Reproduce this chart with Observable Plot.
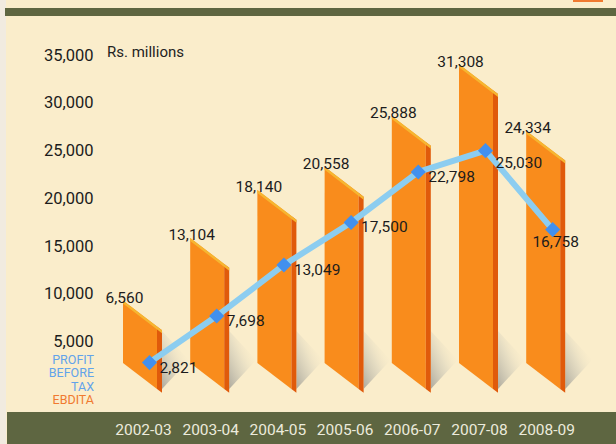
<!DOCTYPE html>
<html><head><meta charset="utf-8">
<script src="https://cdn.jsdelivr.net/npm/d3@7"></script>
<script src="https://cdn.jsdelivr.net/npm/@observablehq/plot@0.6"></script>
<style>
body{margin:0;background:#faedcb;font-family:Roboto,sans-serif;}
#wrap{position:relative;width:616px;height:444px;overflow:hidden;background:#faedcb;}
.abs{position:absolute;white-space:nowrap;}
</style></head><body>
<div id="wrap">
 <div class="abs" style="left:0;top:0;width:6px;height:444px;background:#f1ebe0"></div>
 <div class="abs" style="left:5px;top:8px;width:611px;height:8px;background:#5e6641"></div>
 <div class="abs" style="left:7px;top:412px;width:609px;height:32px;background:#5e6641"></div>
 <div class="abs" style="left:509px;top:-13px;font-size:14px;line-height:16px;color:#222">EBDITA</div>
 <div class="abs" style="left:573px;top:0;width:30px;height:2px;background:#f07a30"></div>
 <div class="abs" style="left:107px;top:43px;font-size:15px;color:#222">Rs. millions</div>
 <div class="abs" style="right:522px;top:353px;text-align:right;font-size:12.5px;line-height:13.3px">
   <div style="color:#62a3ea">PROFIT</div>
   <div style="color:#62a3ea">BEFORE</div>
   <div style="color:#62a3ea">TAX</div>
   <div style="color:#f07a30">EBDITA</div>
 </div>
 <div id="chart" class="abs" style="left:0;top:0"></div>
</div>
<script>
const years = ["2002-03","2003-04","2004-05","2005-06","2006-07","2007-08","2008-09"];
const ebdita = [6560, 13104, 18140, 20558, 25888, 31308, 24334];
const pbt = [2821, 7698, 13049, 17500, 22798, 25030, 16758];
const yTicks = [5000, 10000, 15000, 20000, 25000, 30000, 35000];

// geometry (styling) constants
const XPX = 67.2;                 // px per category
const UPX = 35000 / 334;          // value units per px
const W = 34 / XPX, S = 5 / XPX;  // front face & side widths
const slant = 26 * UPX;
const fmt = d3.format(",");

const front = years.flatMap((yr, i) => [
  {bar: i, x: i, y1: slant, y2: ebdita[i] + slant},
  {bar: i, x: i + W, y1: 0, y2: ebdita[i]}
]);
const side = years.flatMap((yr, i) => {
  const endTop = ebdita[i] - slant * S / W;
  return [
    {bar: i, x: i + W, y1: 0, y2: ebdita[i]},
    {bar: i, x: i + W + S, y1: -slant * S / W, y2: endTop}
  ];
});
const topFace = years.flatMap((yr, i) => {
  const v = ebdita[i], endTop = v - slant * S / W;
  return [
    {bar: i, x: i, y1: v + slant - 3 * UPX, y2: v + slant},
    {bar: i, x: i + W + S, y1: endTop - 3 * UPX, y2: endTop}
  ];
});
const shadow = years.flatMap((yr, i) => [
  {bar: i, x: i + W + S, y1: 0, y2: 58 * UPX},
  {bar: i, x: i + W + S + 27 / XPX, y1: 29 * UPX, y2: 29 * UPX}
]);
const bars = years.map((yr, i) => ({i, v: ebdita[i]}));
const pts = years.map((yr, i) => ({i, v: pbt[i]}));

const plot = Plot.plot({
  width: 616, height: 444,
  marginLeft: 96, marginRight: 0, marginTop: 0, marginBottom: 24,
  style: {background: "transparent", fontFamily: "Roboto, sans-serif", overflow: "visible"},
  x: {domain: [0, 6], range: [123, 123 + 6 * XPX], label: null},
  y: {domain: [0, 35000], range: [389, 55], label: null},
  marks: [
    Plot.areaY(shadow, {x: "x", y1: "y1", y2: "y2", z: "bar", fill: "url(#shadowGrad)"}),
    Plot.areaY(front, {x: "x", y1: "y1", y2: "y2", z: "bar", fill: "#f98c1c"}),
    Plot.areaY(side, {x: "x", y1: "y1", y2: "y2", z: "bar", fill: "#e05a0b"}),
    Plot.areaY(topFace, {x: "x", y1: "y1", y2: "y2", z: "bar", fill: "#f6b631"}),
    Plot.text(bars, {x: "i", y: d => d.v + slant, text: d => fmt(d.v), dx: 1, dy: -3,
      fontSize: 15.5, fill: "#1c1c1c"}),
    Plot.line(pts, {x: "i", y: "v", dx: 26, stroke: "#8ccdf0", strokeWidth: 6}),
    Plot.dot(pts, {x: "i", y: "v", dx: 26, symbol: "diamond2", r: 6.8, fill: "#4290ee"}),
    Plot.text(pts.filter(d => d.i < 5), {x: "i", y: "v", text: d => fmt(d.v), dx: 36, dy: 5,
      textAnchor: "start", fontSize: 15.5, fill: "#1c1c1c"}),
    Plot.text(pts.filter(d => d.i === 5), {x: "i", y: "v", text: d => fmt(d.v), dx: 36, dy: 12,
      textAnchor: "start", fontSize: 15.5, fill: "#1c1c1c"}),
    Plot.text(pts.filter(d => d.i === 6), {x: "i", y: "v", text: d => fmt(d.v), dx: 29, dy: 12,
      textAnchor: "middle", fontSize: 15.5, fill: "#1c1c1c"}),
    Plot.axisY({ticks: yTicks, tickFormat: d3.format(","), tickSize: 0, tickPadding: 3, fontSize: 16.5,
      color: "#1c1c1c", label: null}),
    Plot.axisX({ticks: d3.range(years.length), tickFormat: i => years[i], tickSize: 0,
      tickPadding: 3, dx: 20, fontSize: 15.5, color: "#ecebdc", label: null})
  ]
});
const ns = "http://www.w3.org/2000/svg";
const defs = document.createElementNS(ns, "defs");
defs.innerHTML = `<linearGradient id="shadowGrad" x1="0" y1="1" x2="0.8" y2="0.2">
  <stop offset="0" stop-color="#a9a69b" stop-opacity="0.95"/>
  <stop offset="0.55" stop-color="#d8d2bd" stop-opacity="0.6"/>
  <stop offset="1" stop-color="#faedcb" stop-opacity="0"/>
</linearGradient>`;
plot.insertBefore(defs, plot.firstChild);
document.getElementById("chart").appendChild(plot);
</script>
</body></html>
